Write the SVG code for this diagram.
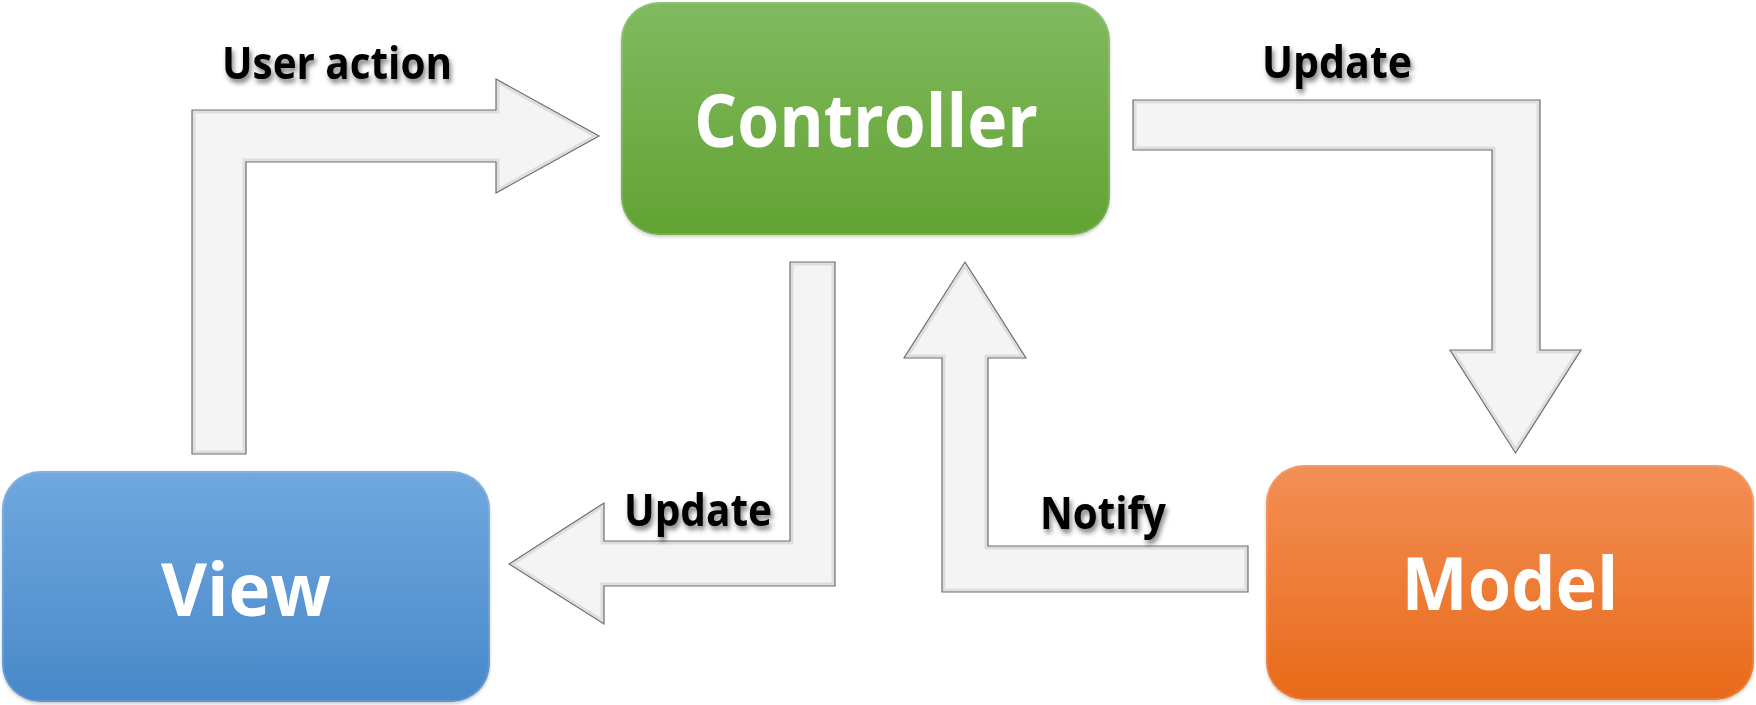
<svg xmlns="http://www.w3.org/2000/svg" width="1756" height="705" viewBox="0 0 1756 705">
  <defs>
    <linearGradient id="gGreen" x1="0" y1="0" x2="0" y2="1">
      <stop offset="0" stop-color="#80BA5F"/>
      <stop offset="1" stop-color="#62A333"/>
    </linearGradient>
    <linearGradient id="gBlue" x1="0" y1="0" x2="0" y2="1">
      <stop offset="0" stop-color="#70A8DF"/>
      <stop offset="1" stop-color="#4888C9"/>
    </linearGradient>
    <linearGradient id="gOrange" x1="0" y1="0" x2="0" y2="1">
      <stop offset="0" stop-color="#F38F55"/>
      <stop offset="1" stop-color="#E86A19"/>
    </linearGradient>
    <filter id="txtShadow" x="-10%" y="-30%" width="120%" height="170%">
      <feDropShadow dx="2" dy="4" stdDeviation="2.5" flood-color="#000" flood-opacity="0.5"/>
    </filter>
    <filter id="boxShadow" x="-5%" y="-5%" width="110%" height="115%">
      <feDropShadow dx="0" dy="2" stdDeviation="1.5" flood-color="#000" flood-opacity="0.2"/>
    </filter>
    <path id="pUser" d="M192,454 L192,110 L496,110 L496,79 L599,136 L496,193 L496,162 L246,162 L246,454 Z"/>
    <path id="pUpd1" d="M1133,100 L1540,100 L1540,350 L1581,350 L1515.5,453 L1450,350 L1492,350 L1492,150 L1133,150 Z"/>
    <path id="pUpd2" d="M790,262 L835,262 L835,586 L604,586 L604,624 L509,564 L604,503 L604,541 L790,541 Z"/>
    <path id="pNotify" d="M965,262 L1026,358 L988,358 L988,546 L1248,546 L1248,592 L942,592 L942,358 L904,358 Z"/>
    <clipPath id="cUser"><use href="#pUser"/></clipPath>
    <clipPath id="cUpd1"><use href="#pUpd1"/></clipPath>
    <clipPath id="cUpd2"><use href="#pUpd2"/></clipPath>
    <clipPath id="cNotify"><use href="#pNotify"/></clipPath>
  </defs>
  <style>
    .arrowFill { fill: #F4F4F5; }
    .arrowBevel { fill: none; stroke: #DEDEE0; stroke-width: 7; }
    .arrowEdge { fill: none; stroke: #6E6E6E; stroke-width: 1.2; stroke-linejoin: miter; }
    .lbl { font-family: "Open Sans", "Liberation Sans", sans-serif; font-weight: 700; font-size: 44px; fill: #000; filter: url(#txtShadow); }
    .node { filter: url(#boxShadow); }
    .nodeText { font-family: "Open Sans", "Liberation Sans", sans-serif; font-weight: 700; font-size: 74px; fill: #FFFFFF; text-anchor: middle; }
    .gloss { fill: none; stroke: #FFFFFF; stroke-opacity: 0.12; stroke-width: 2; }
  </style>
  <rect width="1756" height="705" fill="#FFFFFF"/>

  <g id="connectors">
    <g id="conn-user-action">
      <use href="#pUser" class="arrowFill"/>
      <use href="#pUser" class="arrowBevel" clip-path="url(#cUser)"/>
      <use href="#pUser" class="arrowEdge"/>
      <text class="lbl" x="222" y="79" textLength="230" lengthAdjust="spacingAndGlyphs">User action</text>
    </g>
    <g id="conn-update-model">
      <use href="#pUpd1" class="arrowFill"/>
      <use href="#pUpd1" class="arrowBevel" clip-path="url(#cUpd1)"/>
      <use href="#pUpd1" class="arrowEdge"/>
      <text class="lbl" x="1262" y="78" textLength="150" lengthAdjust="spacingAndGlyphs">Update</text>
    </g>
    <g id="conn-update-view">
      <use href="#pUpd2" class="arrowFill"/>
      <use href="#pUpd2" class="arrowBevel" clip-path="url(#cUpd2)"/>
      <use href="#pUpd2" class="arrowEdge"/>
      <text class="lbl" x="624" y="526" textLength="148" lengthAdjust="spacingAndGlyphs">Update</text>
    </g>
    <g id="conn-notify">
      <use href="#pNotify" class="arrowFill"/>
      <use href="#pNotify" class="arrowBevel" clip-path="url(#cNotify)"/>
      <use href="#pNotify" class="arrowEdge"/>
      <text class="lbl" x="1040" y="529" textLength="126" lengthAdjust="spacingAndGlyphs">Notify</text>
    </g>
  </g>

  <g id="node-controller" class="node">
    <rect x="621" y="2" width="489" height="233" rx="38" ry="38" fill="url(#gGreen)"/>
    <rect x="622" y="3" width="487" height="231" rx="37" ry="37" class="gloss"/>
    <text class="nodeText" x="866" y="147" textLength="344" lengthAdjust="spacingAndGlyphs">Controller</text>
  </g>
  <g id="node-view" class="node">
    <rect x="2" y="471" width="488" height="231" rx="38" ry="38" fill="url(#gBlue)"/>
    <rect x="3" y="472" width="486" height="229" rx="37" ry="37" class="gloss"/>
    <text class="nodeText" x="246" y="616" textLength="170" lengthAdjust="spacingAndGlyphs">View</text>
  </g>
  <g id="node-model" class="node">
    <rect x="1266" y="465" width="488" height="235" rx="38" ry="38" fill="url(#gOrange)"/>
    <rect x="1267" y="466" width="486" height="233" rx="37" ry="37" class="gloss"/>
    <text class="nodeText" x="1510" y="610" textLength="217" lengthAdjust="spacingAndGlyphs">Model</text>
  </g>
</svg>
